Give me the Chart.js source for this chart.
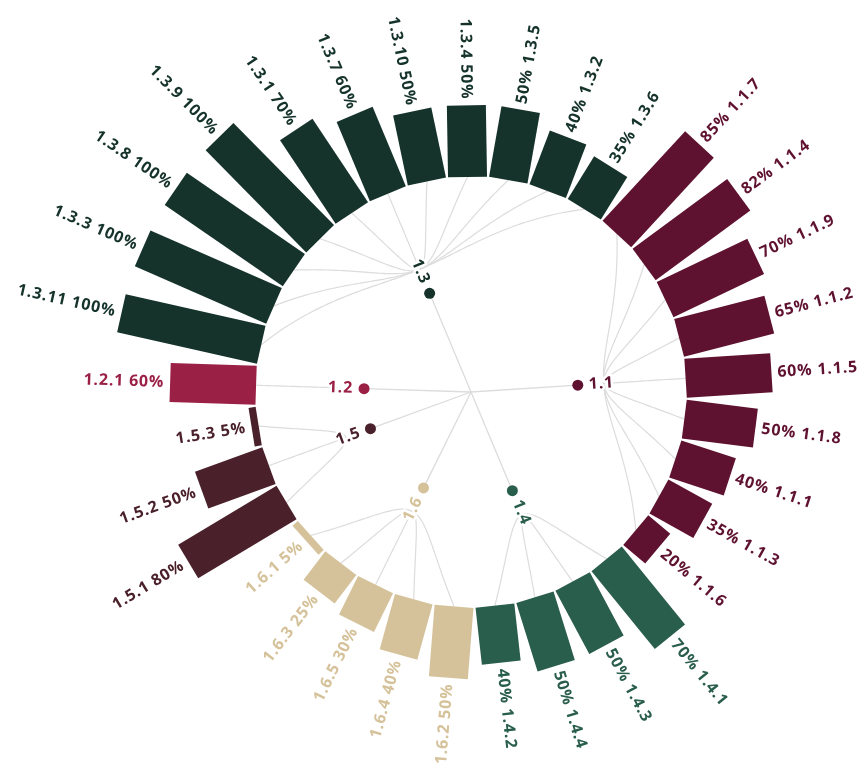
<!DOCTYPE html>
<html>
<head>
<meta charset="utf-8">
<script src="https://cdn.jsdelivr.net/npm/chart.js@4.4.1/dist/chart.umd.min.js"></script>
<style>
  html, body { margin: 0; padding: 0; background: #fff; }
  #wrap { width: 864px; height: 769px; }
</style>
</head>
<body>
<div id="wrap"><canvas id="radialTree"></canvas></div>
<script>
//data - leaves clockwise, starting at 1.2.1 (left side)
const leafIds = [
  "1.2.1",
  "1.3.11", "1.3.3", "1.3.8", "1.3.9", "1.3.1", "1.3.7", "1.3.10", "1.3.4", "1.3.5", "1.3.2", "1.3.6",
  "1.1.7", "1.1.4", "1.1.9", "1.1.2", "1.1.5", "1.1.8", "1.1.1", "1.1.3", "1.1.6",
  "1.4.1", "1.4.3", "1.4.4", "1.4.2",
  "1.6.2", "1.6.4", "1.6.5", "1.6.3", "1.6.1",
  "1.5.1", "1.5.2", "1.5.3",
];
const leafValues = [
  60,
  100, 100, 100, 100, 70, 60, 50, 50, 50, 40, 35,
  85, 82, 70, 65, 60, 50, 40, 35, 20,
  70, 50, 50, 40,
  50, 40, 30, 25, 5,
  80, 50, 5,
];
const groupIds = ["1.1", "1.2", "1.3", "1.4", "1.5", "1.6"];
const groupColors = ["#5f1230", "#9b2046", "#15332b", "#295d4c", "#4a212b", "#d5c29a"];

//const
const R_MIN = -150; // value at the centre, so 0% sits on the inner ring
const R_MAX = 113;
const BAR_W = 39;
const NODE_R = 107;
const LINK_START = 133;
const FONT = '700 16px "Open Sans"';
const LINK_COLOR = "#dcdcdc";

const parentOf = (id) => id.split(".").slice(0, 2).join(".");
const colorOf = (g) => groupColors[groupIds.indexOf(g)];

function groupIndex(g) {
  const idx = [];
  leafIds.forEach((id, i) => {
    if (parentOf(id) === g) idx.push(i);
  });
  return idx.reduce((a, b) => a + b, 0) / idx.length;
}

function isLeftSide(angle) {
  let ang = angle % (2 * Math.PI);
  if (ang < 0) ang += 2 * Math.PI;
  return ang > Math.PI / 2 && ang < (3 * Math.PI) / 2;
}

function drawRadialText(ctx, scale, idx, dist, text, color, halo) {
  const p = scale.getPointPosition(idx, dist);
  const left = isLeftSide(p.angle);
  ctx.save();
  ctx.translate(p.x, p.y);
  ctx.rotate(left ? p.angle + Math.PI : p.angle);
  ctx.font = FONT;
  ctx.letterSpacing = "0.8px";
  ctx.textAlign = left ? "right" : "left";
  ctx.textBaseline = "middle";
  if (halo) {
    ctx.strokeStyle = "#fff";
    ctx.lineWidth = 5;
    ctx.lineJoin = "round";
    ctx.strokeText(text, 0, 0);
  }
  ctx.fillStyle = color;
  ctx.fillText(text, 0, 0);
  ctx.restore();
}

const radialTreePlugin = {
  id: "radialTree",
  afterDatasetsDraw(chart) {
    const r = chart.scales.r;
    const ctx = chart.ctx;
    const rIn = r.getDistanceFromCenterForValue(0);
    ctx.save();

    // root -> group nodes
    ctx.strokeStyle = LINK_COLOR;
    ctx.lineWidth = 1.3;
    groupIds.forEach((g) => {
      const p = r.getPointPosition(groupIndex(g), NODE_R);
      ctx.beginPath();
      ctx.moveTo(r.xCenter, r.yCenter);
      ctx.lineTo(p.x, p.y);
      ctx.stroke();
    });

    // group nodes -> leaves
    ctx.lineWidth = 1.2;
    leafIds.forEach((id, i) => {
      const gi = groupIndex(parentOf(id));
      ctx.beginPath();
      for (let s = 0; s <= 40; s++) {
        const t = s / 40;
        const p = r.getPointPosition(gi + (i - gi) * t, LINK_START + (rIn - LINK_START) * t * t);
        if (s === 0) ctx.moveTo(p.x, p.y);
        else ctx.lineTo(p.x, p.y);
      }
      ctx.stroke();
    });

    // bars
    leafIds.forEach((id, i) => {
      const a = r.getPointPositionForValue(i, 0);
      const b = r.getPointPositionForValue(i, leafValues[i]);
      const nx = (-Math.sin(a.angle) * BAR_W) / 2;
      const ny = (Math.cos(a.angle) * BAR_W) / 2;
      ctx.fillStyle = colorOf(parentOf(id));
      ctx.beginPath();
      ctx.moveTo(a.x + nx, a.y + ny);
      ctx.lineTo(b.x + nx, b.y + ny);
      ctx.lineTo(b.x - nx, b.y - ny);
      ctx.lineTo(a.x - nx, a.y - ny);
      ctx.closePath();
      ctx.fill();
    });

    // leaf labels
    leafIds.forEach((id, i) => {
      const d = r.getDistanceFromCenterForValue(leafValues[i]) + 6;
      const left = isLeftSide(r.getPointPosition(i, d).angle);
      const txt = left ? id + " " + leafValues[i] + "%" : leafValues[i] + "% " + id;
      drawRadialText(ctx, r, i, d, txt, colorOf(parentOf(id)), false);
    });

    // group nodes + labels
    groupIds.forEach((g) => {
      const gi = groupIndex(g);
      drawRadialText(ctx, r, gi, NODE_R + 11, g, colorOf(g), true);
      const p = r.getPointPosition(gi, NODE_R);
      ctx.fillStyle = colorOf(g);
      ctx.beginPath();
      ctx.arc(p.x, p.y, 5.5, 0, 2 * Math.PI);
      ctx.fill();
    });
    ctx.restore();
  },
};

const config = {
  type: "radar",
  data: {
    labels: leafIds,
    datasets: [
      {
        label: "value %",
        data: leafValues,
        borderWidth: 0,
        borderColor: "rgba(0,0,0,0)",
        backgroundColor: "rgba(0,0,0,0)",
        pointRadius: 0,
        fill: false,
      },
    ],
  },
  options: {
    responsive: true,
    maintainAspectRatio: false,
    animation: false,
    layout: { padding: { left: 79, top: 15, right: 0, bottom: 0 } },
    plugins: { legend: { display: false }, tooltip: { enabled: false } },
    scales: {
      r: {
        min: R_MIN,
        max: R_MAX,
        startAngle: 271.8,
        grid: { display: false },
        angleLines: { display: false },
        ticks: { display: false },
        pointLabels: { display: false },
      },
    },
  },
  plugins: [radialTreePlugin],
};

const myChart = new Chart(document.getElementById("radialTree"), config);
</script>
</body>
</html>
